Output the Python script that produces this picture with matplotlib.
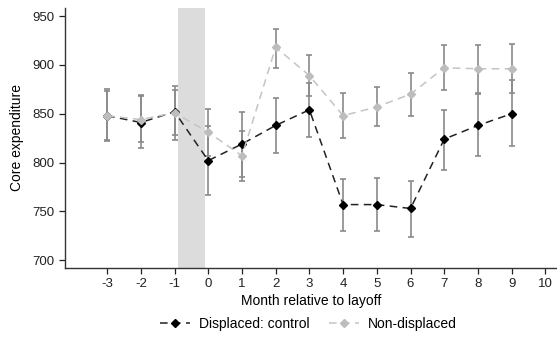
import matplotlib
matplotlib.use("Agg")
import matplotlib.pyplot as plt
import numpy as np

plt.rcParams['font.family'] = ['Liberation Sans', 'DejaVu Sans']
plt.rcParams['axes.unicode_minus'] = False

months = [-3, -2, -1, 0, 1, 2, 3, 4, 5, 6, 7, 8, 9]
displaced = [848, 841, 852, 802, 819, 838, 854, 757, 757, 753, 824, 838, 850]
displaced_lo = [822, 815, 823, 767, 785, 810, 826, 730, 730, 724, 792, 807, 817]
displaced_hi = [875, 869, 878, 837, 852, 866, 881, 783, 784, 781, 854, 870, 884]
nondisp = [848, 844, 851, 831, 807, 918, 889, 848, 857, 870, 897, 896, 896]
nondisp_lo = [823, 821, 828, 807, 781, 897, 868, 825, 837, 848, 874, 871, 871]
nondisp_hi = [873, 868, 874, 855, 832, 937, 910, 871, 877, 892, 920, 920, 921]
xticks = list(range(-3, 11))
yticks = [700, 750, 800, 850, 900, 950]

fig = plt.figure(figsize=(5.57, 3.45), dpi=100)
ax = fig.add_axes([65/557, 1-267.7/345, 1-65/557-0.5/557, (267.7-7.7)/345])

ax.axvspan(-0.9, -0.1, color='#dcdcdc', lw=0, zorder=0)

x = np.array(months)
ecol = '#8a8a8a'
for m, lo, hi in [(displaced, displaced_lo, displaced_hi), (nondisp, nondisp_lo, nondisp_hi)]:
    m = np.array(m); lo = np.array(lo); hi = np.array(hi)
    ax.errorbar(x, m, yerr=[m-lo, hi-m], fmt='none', ecolor=ecol, elinewidth=1.2,
                capsize=2.2, capthick=1.2, zorder=2)

ax.plot(x, displaced, color='#222222', ls=(0, (5, 3.5)), lw=1.1, marker='D', ms=4.2,
        mfc='black', mec='black', zorder=3, label='Displaced: control')
ax.plot(x, nondisp, color='#c4c4c4', ls=(0, (5, 3.5)), lw=1.1, marker='D', ms=4.2,
        mfc='#bdbdbd', mec='#bdbdbd', zorder=4, label='Non-displaced')

ax.set_xlim(-4.25, 10.33)
ax.set_ylim(692.4, 958.5)
ax.set_xticks(xticks)
ax.set_yticks(yticks)
ax.tick_params(direction='out', length=4, width=0.9, labelsize=9.5, colors='#222222')
ax.set_xlabel('Month relative to layoff', fontsize=10, labelpad=3)
ax.set_ylabel('Core expenditure', fontsize=10, labelpad=6)
for s in ['top', 'right']:
    ax.spines[s].set_visible(False)
for s in ['left', 'bottom']:
    ax.spines[s].set_linewidth(1.0)
    ax.spines[s].set_color('#333333')

leg = ax.legend(loc='center', bbox_to_anchor=(0.495, -0.215), ncol=2, frameon=False,
                fontsize=10, handlelength=2.2, columnspacing=1.4, handletextpad=0.6)

fig.savefig('out.png', dpi=100)
